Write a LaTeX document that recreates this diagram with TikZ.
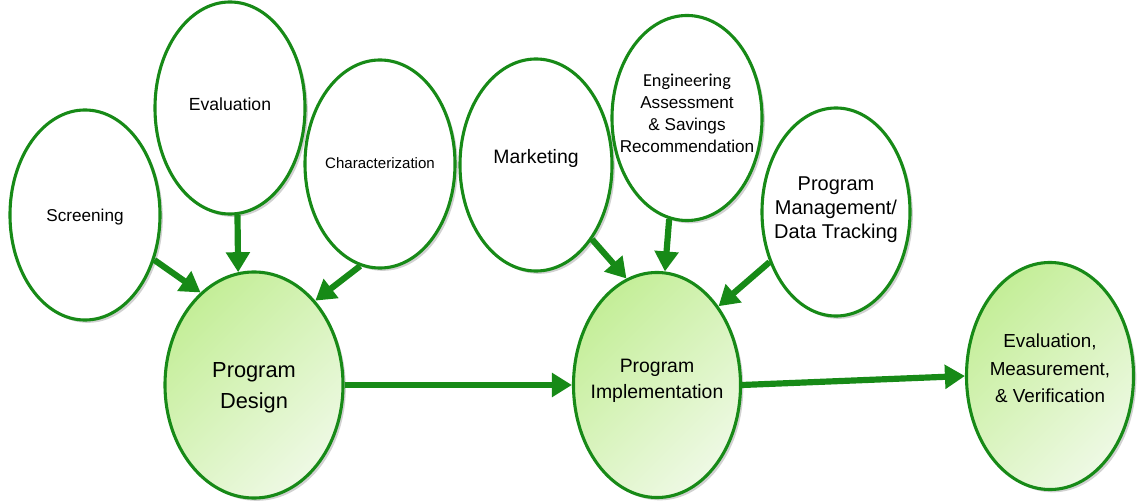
\documentclass[tikz,border=0pt]{standalone}
\usepackage{fontspec}
\setmainfont{Liberation Sans}
\newfontfamily\calibrifont{Carlito}
\usetikzlibrary{positioning,arrows.meta,shapes.geometric,shadows}
\definecolor{ringgreen}{HTML}{178A17}
\definecolor{phasedark}{HTML}{C4EE98}
\definecolor{phaselight}{HTML}{EEF9E4}
% text block that does not size the ellipse; #1 lifts it
\newcommand{\ovaltext}[2]{\makebox[0pt]{\raisebox{\dimexpr #1-0.37em\relax}[0pt][0pt]{\begin{tabular}{@{}c@{}}#2\end{tabular}}}}

\begin{document}
\begin{tikzpicture}[x=0.025cm, y=-0.025cm,
    task/.style={ellipse, draw=ringgreen, line width=2.2pt, fill=white, inner sep=0pt,
        drop shadow={shadow xshift=2pt, shadow yshift=-2pt, opacity=0.3, fill=black!60}},
    phase/.style={task, top color=phasedark, bottom color=phaselight, shading angle=45},
    flow/.style={-{Triangle[length=0.5cm, width=0.58cm]}, line width=4.4pt, draw=ringgreen}
]
\useasboundingbox (0,0) rectangle (1139,504);

% Supporting activities
\node[task, minimum width=3.75cm, minimum height=5.25cm, font=\fontsize{12.2}{15}\selectfont] (screen) at (85,215) {\ovaltext{0pt}{Screening}};
\node[task, minimum width=3.75cm, minimum height=5.3cm, font=\fontsize{12.5}{15}\selectfont] (evalu) at (230,108) {\ovaltext{3pt}{Evaluation}};
\node[task, minimum width=3.75cm, minimum height=5.2cm, font=\fontsize{10.7}{13}\selectfont] (charac) at (380,164) {\ovaltext{0.5pt}{Characterization}};
\node[task, minimum width=3.8cm, minimum height=5.3cm, font=\fontsize{13.8}{17}\selectfont] (market) at (536,165) {\ovaltext{5.7pt}{Marketing}};
\node[task, minimum width=3.75cm, minimum height=5.125cm, font=\fontsize{12.2}{15.6}\selectfont] (engin) at (687,118) {\ovaltext{3.5pt}{{\calibrifont\fontsize{13}{15.6}\selectfont Engineering}\\Assessment\\\& Savings\\Recommendation}};
\node[task, minimum width=3.7cm, minimum height=5.2cm, font=\fontsize{14.2}{17}\selectfont] (manage) at (836,212) {\ovaltext{3pt}{Program\\Management/\\Data Tracking}};

% Main phases
\node[phase, minimum width=4.45cm, minimum height=5.65cm, font=\fontsize{15.5}{22}\selectfont] (design) at (254,385) {\ovaltext{1pt}{Program\\Design}};
\node[phase, minimum width=4.175cm, minimum height=5.625cm, font=\fontsize{13.8}{19}\selectfont] (implem) at (657,385) {\ovaltext{5pt}{Program\\Implementation}};
\node[phase, minimum width=4.175cm, minimum height=5.675cm, font=\fontsize{13.4}{19.5}\selectfont] (emv) at (1050,376) {\ovaltext{5.7pt}{Evaluation,\\Measurement,\\\& Verification}};

% Connections
\draw[flow] (screen.-33) -- (design.120);
\draw[flow] (evalu.-86) -- (design.98);
\draw[flow] (charac.-101) -- (design.54);
\draw[flow] (market.-53) -- (implem.106);
\draw[flow] (engin.-100) -- (implem.86);
\draw[flow] (manage.-143) -- (implem.52);
\draw[flow] (design.east) -- (implem.west);
\draw[flow] (implem.east) -- (emv.west);

\end{tikzpicture}
\end{document}
